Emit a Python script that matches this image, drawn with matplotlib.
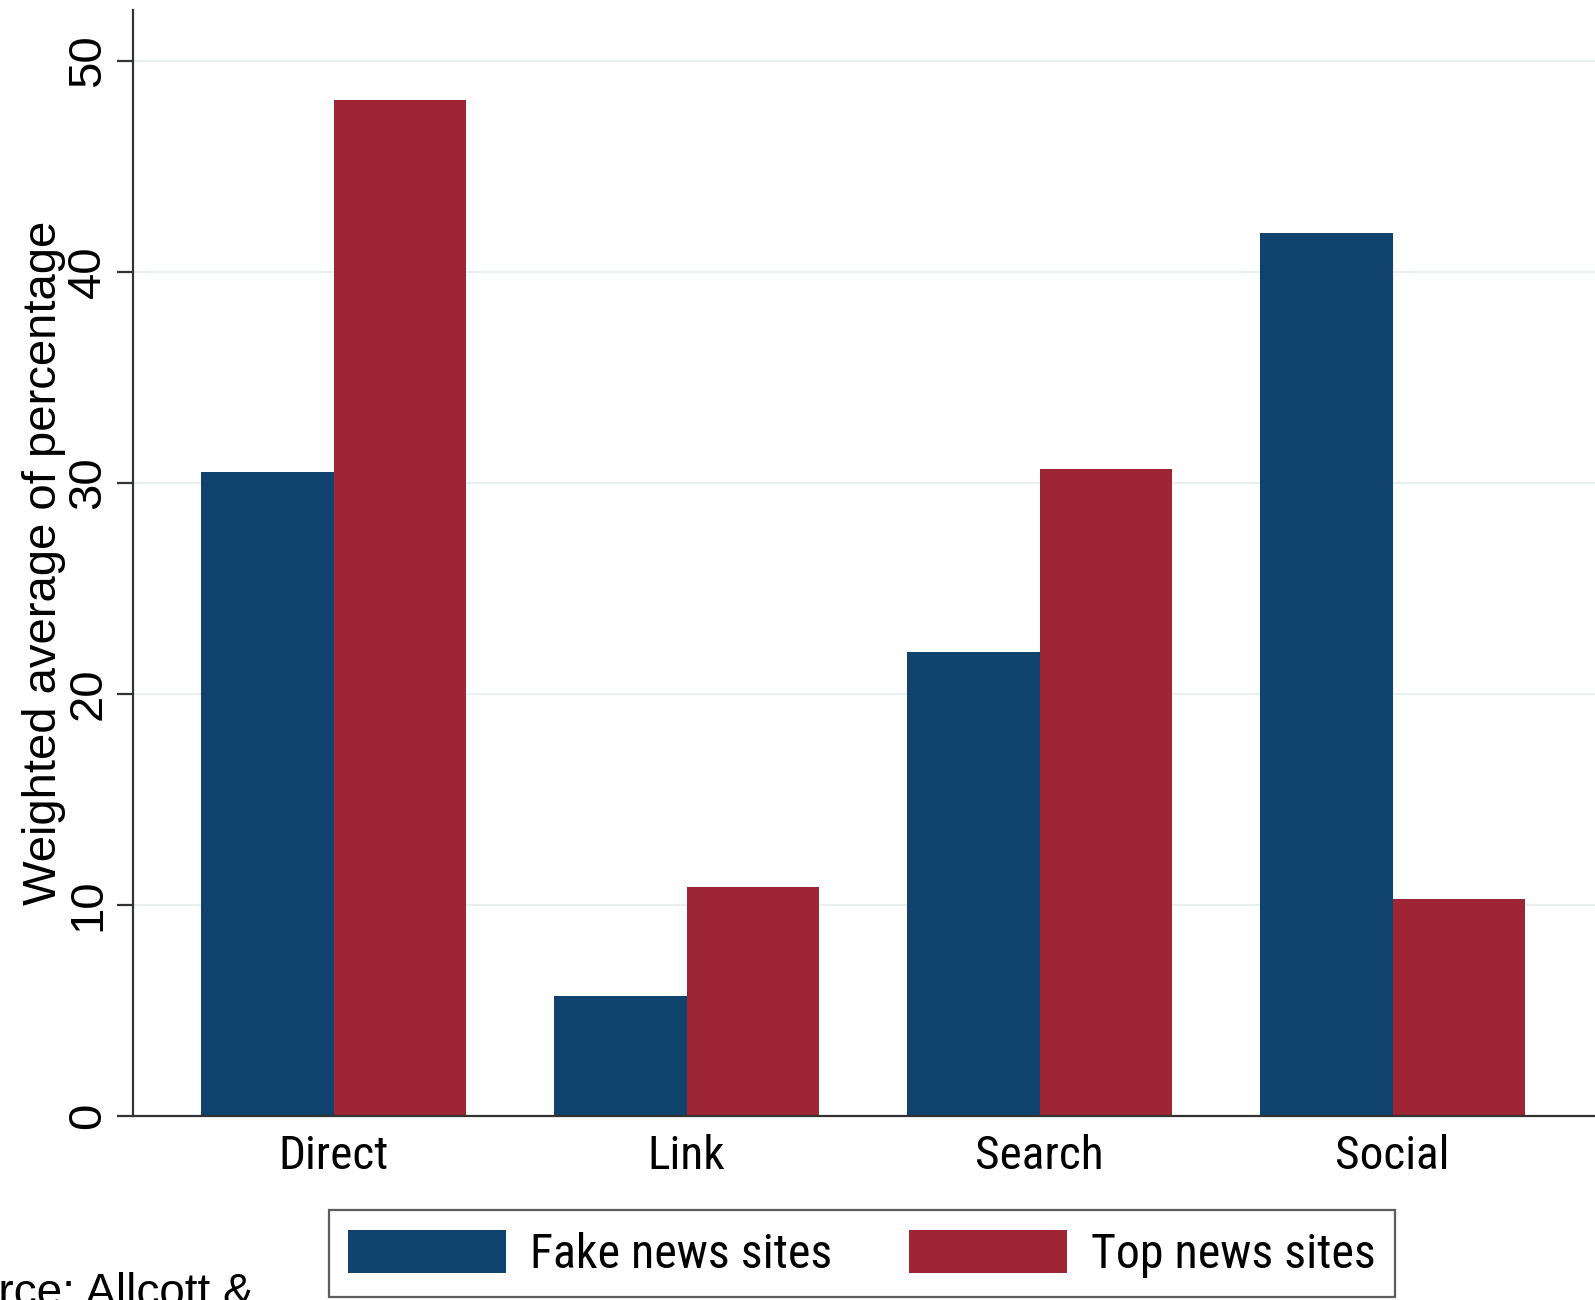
import matplotlib
matplotlib.use('Agg')
import matplotlib.pyplot as plt
import numpy as np
from matplotlib.patches import Patch

# traffic source shares
categories = ['Direct', 'Link', 'Search', 'Social']
fake_news = [30.5, 5.7, 22.0, 41.85]
top_news = [48.15, 10.85, 30.65, 10.3]
series_names = ['Fake news sites', 'Top news sites']
y_ticks = [0, 10, 20, 30, 40, 50]

navy = '#10426e'
maroon = '#9d2534'
grid_col = '#e6eef0'
narrow = ['Liberation Sans Narrow', 'Roboto Condensed', 'Arial Narrow', 'Liberation Sans']
plain = ['Liberation Sans', 'DejaVu Sans']

# layout measured on a 1568 x 1278 view of the target
W, H = 1568, 1278

fig = plt.figure(figsize=(15.95, 13.0), dpi=100, facecolor='white')
ax = fig.add_axes([131 / W, 1 - 1097 / H, 1 - 131 / W, (1097 - 10) / H])

x = np.arange(len(categories))
w = 130 / 347
ax.bar(x - w / 2, fake_news, width=w, color=navy, linewidth=0, zorder=3)
ax.bar(x + w / 2, top_news, width=w, color=maroon, linewidth=0, zorder=3)

# groups are 347 px apart, first centre at 328 px, plot runs to the right edge
ax.set_xlim((131 - 328) / 347, (W - 328) / 347)
ax.set_ylim(0, 52.4)

for t in y_ticks[1:]:
    ax.axhline(t, color=grid_col, linewidth=1.3, zorder=1)

ax.spines['top'].set_visible(False)
ax.spines['right'].set_visible(False)
ax.spines['left'].set_color('#333333')
ax.spines['left'].set_linewidth(1.6)
ax.spines['bottom'].set_color('#333333')
ax.spines['bottom'].set_linewidth(1.6)
ax.spines['bottom'].set_zorder(4)

ax.set_yticks(y_ticks)
ax.set_yticklabels([str(t) for t in y_ticks], rotation=90, va='center',
                   fontsize=34, family=plain)
ax.tick_params(axis='y', length=11.5, width=1.6, color='#333333', pad=5)

ax.set_xticks(x)
ax.set_xticklabels(categories, fontsize=34, family=narrow)
ax.tick_params(axis='x', length=0, pad=13)

ax.set_ylabel('Weighted average of percentage', fontsize=34, family=plain, labelpad=0)

handles = [Patch(facecolor=navy, edgecolor='none'), Patch(facecolor=maroon, edgecolor='none')]
leg = fig.legend(handles, series_names, ncol=2, loc='upper left',
                 bbox_to_anchor=(323 / W, 1 - 1190 / H),
                 prop={'family': narrow, 'size': 34.5},
                 frameon=True, fancybox=False, edgecolor='#333333',
                 handlelength=3.3, handleheight=1.0, handletextpad=0.5,
                 columnspacing=1.6, borderpad=0.4, borderaxespad=0.0)
leg.get_frame().set_linewidth(1.6)

fig.text(-82 / W, -6 / 1300, 'Source: Allcott &', fontsize=33, family=plain,
         va='baseline', ha='left')

fig.savefig('out.png', dpi=100)
